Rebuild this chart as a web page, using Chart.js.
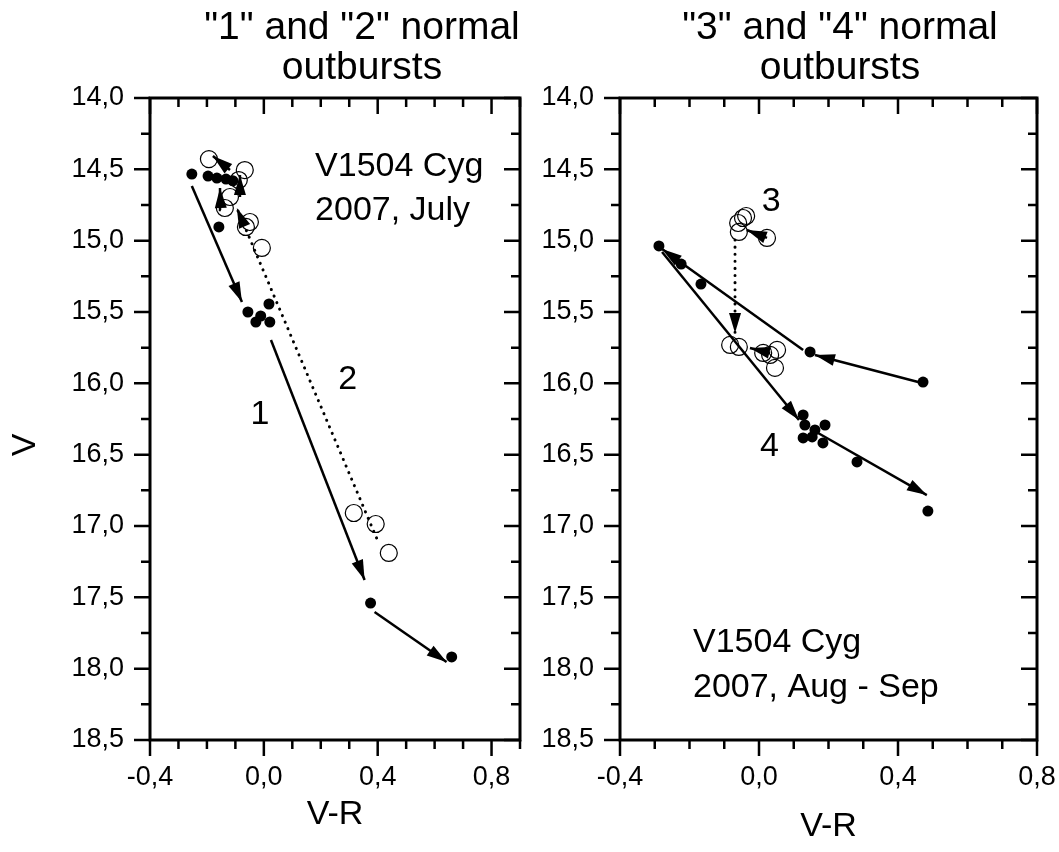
<!DOCTYPE html>
<html>
<head>
<meta charset="utf-8">
<script src="https://cdn.jsdelivr.net/npm/chart.js@4.4.1/dist/chart.umd.min.js"></script>
<style>
html, body { margin: 0; padding: 0; background: #fff; overflow: hidden; }
#wrap { position: relative; width: 1059px; height: 852px; overflow: hidden; }
.panel { position: absolute; top: 0; height: 852px; }
</style>
</head>
<body>
<div id="wrap">
  <div class="panel" style="left:0;width:541px"><canvas id="left"></canvas></div>
  <div class="panel" style="left:530px;width:547px"><canvas id="right"></canvas></div>
</div>
<script>
// ---- left panel: outbursts 1 and 2 (July) ----
const leftFilledX = [-0.253, -0.196, -0.165, -0.133, -0.109, -0.158, -0.056, -0.028, -0.011, 0.018, 0.021, 0.375, 0.660];
const leftFilledY = [14.533, 14.547, 14.561, 14.568, 14.58, 14.904, 15.50, 15.57, 15.528, 15.444, 15.57, 17.54, 17.918];
const leftOpenX = [-0.193, -0.067, -0.088, -0.119, -0.137, -0.049, -0.063, -0.007, 0.316, 0.393, 0.439];
const leftOpenY = [14.428, 14.505, 14.575, 14.694, 14.771, 14.869, 14.904, 15.051, 16.909, 16.986, 17.189];
// arrows: [x1, y1, x2, y2], head at the second point
const leftSolidArrows = [
  [-0.253, 14.617, -0.077, 15.430],
  [0.025, 15.696, 0.354, 17.378],
  [0.389, 17.603, 0.642, 17.953],
  [-0.151, 14.785, -0.154, 14.631],
  [-0.084, 14.694, -0.084, 14.540],
  [-0.119, 14.505, -0.179, 14.407]
];
const leftDottedArrows = [
  [0.396, 17.084, -0.095, 14.771]
];

// ---- right panel: outbursts 3 and 4 (Aug - Sep) ----
const rightFilledX = [-0.288, -0.224, -0.167, 0.147, 0.472, 0.127, 0.132, 0.127, 0.153, 0.161, 0.190, 0.184, 0.282, 0.486];
const rightFilledY = [15.037, 15.164, 15.304, 15.780, 15.991, 16.222, 16.292, 16.383, 16.376, 16.327, 16.292, 16.418, 16.551, 16.895];
const rightOpenX = [-0.046, -0.060, -0.058, -0.037, 0.023, -0.083, -0.058, 0.012, 0.052, 0.032, 0.046];
const rightOpenY = [14.841, 14.876, 14.939, 14.827, 14.981, 15.731, 15.745, 15.787, 15.766, 15.801, 15.892];
const rightSolidArrows = [
  [0.458, 15.991, 0.161, 15.801],
  [0.127, 15.766, -0.279, 15.058],
  [-0.279, 15.079, 0.115, 16.257],
  [0.170, 16.348, 0.483, 16.783],
  [0.023, 14.981, -0.035, 14.925],
  [0.032, 15.787, -0.026, 15.752]
];
const rightDottedArrows = [
  [-0.069, 14.995, -0.069, 15.647]
];

const FONT = '"Liberation Sans", Arial, sans-serif';

function pts(xs, ys) {
  return xs.map((x, i) => ({ x: x, y: ys[i] }));
}

function arrowSets(list, dotted) {
  return list.map(a => ({
    data: [{ x: a[0], y: a[1] }, { x: a[2], y: a[3] }],
    showLine: true,
    arrow: true,
    borderColor: '#000',
    borderWidth: dotted ? 3 : 2.5,
    borderDash: dotted ? [0.1, 7] : [],
    borderCapStyle: dotted ? 'round' : 'butt',
    pointRadius: 0,
    order: 2
  }));
}

function head(ctx, x1, y1, x2, y2) {
  const dx = x2 - x1, dy = y2 - y1, d = Math.hypot(dx, dy);
  const ux = dx / d, uy = dy / d, len = 20, half = 6;
  ctx.beginPath();
  ctx.moveTo(x2, y2);
  ctx.lineTo(x2 - ux * len - uy * half, y2 - uy * len + ux * half);
  ctx.lineTo(x2 - ux * len + uy * half, y2 - uy * len - ux * half);
  ctx.closePath();
  ctx.fill();
}

// frame, mirrored ticks, arrowheads and text notes
const framePlugin = {
  id: 'frame',
  afterDatasetsDraw(chart, args, opts) {
    const ctx = chart.ctx, a = chart.chartArea;
    const xs = chart.scales.x, ys = chart.scales.y;
    ctx.save();
    ctx.fillStyle = '#000';
    chart.data.datasets.forEach((ds, i) => {
      if (!ds.arrow) return;
      const p = chart.getDatasetMeta(i).data;
      head(ctx, p[0].x, p[0].y, p[1].x, p[1].y);
    });

    ctx.strokeStyle = '#000';
    ctx.lineWidth = 3;
    ctx.strokeRect(a.left, a.top, a.right - a.left, a.bottom - a.top);
    ctx.lineWidth = 2.5;
    ctx.beginPath();
    xs.ticks.forEach(t => {
      const px = xs.getPixelForValue(t.value), L = t.label ? 16 : 9;
      ctx.moveTo(px, a.bottom); ctx.lineTo(px, a.bottom + L);
      ctx.moveTo(px, a.top); ctx.lineTo(px, a.top + L);
    });
    ys.ticks.forEach(t => {
      const py = ys.getPixelForValue(t.value), L = t.label ? 16 : 9;
      ctx.moveTo(a.left, py); ctx.lineTo(a.left - L, py);
      ctx.moveTo(a.right, py); ctx.lineTo(a.right - L, py);
    });
    ctx.stroke();

    ctx.textBaseline = 'middle';
    (opts.notes || []).forEach(n => {
      ctx.font = n.size + 'px ' + FONT;
      ctx.textAlign = n.align || 'center';
      ctx.fillText(n.text, xs.getPixelForValue(n.x), ys.getPixelForValue(n.y));
    });
    ctx.font = '39px ' + FONT;
    ctx.textAlign = 'center';
    (opts.title || []).forEach((line, i) => {
      ctx.fillText(line, opts.titleX, 28 + i * 40);
    });
    if (opts.yTitle) {
      ctx.font = '34px ' + FONT;
      ctx.translate(26, 445);
      ctx.rotate(-Math.PI / 2);
      ctx.fillText(opts.yTitle, 0, 0);
    }
    ctx.restore();
  }
};

function xLabel(v) {
  const k = Math.round(v * 10);
  return k % 4 === 0 ? (k / 10).toFixed(1).replace('.', ',') : '';
}
function yLabel(v) {
  const k = Math.round(v * 4);
  return k % 2 === 0 ? (k / 4).toFixed(1).replace('.', ',') : '';
}

function makeChart(id, cfg) {
  const datasets = [
    { data: pts(cfg.filledX, cfg.filledY), pointRadius: 5.5, pointBackgroundColor: '#000',
      pointBorderColor: '#000', pointBorderWidth: 0, showLine: false, order: 0 },
    { data: pts(cfg.openX, cfg.openY), pointRadius: 8.5, pointBackgroundColor: 'rgba(0,0,0,0)',
      pointBorderColor: '#000', pointBorderWidth: 1.2, showLine: false, order: 1 }
  ].concat(arrowSets(cfg.solid, false), arrowSets(cfg.dotted, true));

  return new Chart(document.getElementById(id), {
    type: 'scatter',
    data: { datasets: datasets },
    options: {
      responsive: true,
      maintainAspectRatio: false,
      animation: false,
      events: [],
      layout: { padding: { top: 98, right: cfg.padRight, left: 0, bottom: 0 } },
      plugins: {
        legend: { display: false },
        tooltip: { enabled: false },
        frame: { notes: cfg.notes, title: cfg.title, titleX: cfg.titleX, yTitle: cfg.yTitle }
      },
      scales: {
        x: {
          type: 'linear', min: -0.4, max: cfg.xMax,
          grid: { display: false, drawTicks: false },
          border: { display: false },
          ticks: { stepSize: 0.1, autoSkip: false, maxRotation: 0, minRotation: 0,
                   padding: 21, color: '#000', font: { family: FONT, size: 27 }, callback: xLabel },
          title: { display: true, text: 'V-R', color: '#000', padding: { top: 0, bottom: cfg.vrPad },
                   font: { family: FONT, size: 34 } },
          afterFit(s) { s.height = 112; }
        },
        y: {
          type: 'linear', min: 14, max: 18.5, reverse: true,
          grid: { display: false, drawTicks: false },
          border: { display: false },
          ticks: { stepSize: 0.25, autoSkip: false, padding: 26, color: '#000',
                   font: { family: FONT, size: 27 }, callback: yLabel },
          afterFit(s) { s.width = cfg.yWidth; }
        }
      }
    },
    plugins: [framePlugin]
  });
}

makeChart('left', {
  filledX: leftFilledX, filledY: leftFilledY, openX: leftOpenX, openY: leftOpenY,
  solid: leftSolidArrows, dotted: leftDottedArrows,
  xMax: 0.9, yWidth: 150, padRight: 21, vrPad: 17, yTitle: 'V',
  title: ['"1" and "2" normal', 'outbursts'], titleX: 362,
  notes: [
    { text: '1', x: -0.014, y: 16.22, size: 34 },
    { text: '2', x: 0.295, y: 15.977, size: 34 },
    { text: 'V1504 Cyg', x: 0.18, y: 14.48, size: 34, align: 'left' },
    { text: '2007, July', x: 0.18, y: 14.79, size: 34, align: 'left' }
  ]
});

makeChart('right', {
  filledX: rightFilledX, filledY: rightFilledY, openX: rightOpenX, openY: rightOpenY,
  solid: rightSolidArrows, dotted: rightDottedArrows,
  xMax: 0.8, yWidth: 90, padRight: 40, vrPad: 5, yTitle: null,
  title: ['"3" and "4" normal', 'outbursts'], titleX: 310,
  notes: [
    { text: '3', x: 0.035, y: 14.729, size: 34 },
    { text: '4', x: 0.03, y: 16.446, size: 34 },
    { text: 'V1504 Cyg', x: -0.19, y: 17.82, size: 34, align: 'left' },
    { text: '2007, Aug - Sep', x: -0.19, y: 18.13, size: 34, align: 'left' }
  ]
});
</script>
</body>
</html>
